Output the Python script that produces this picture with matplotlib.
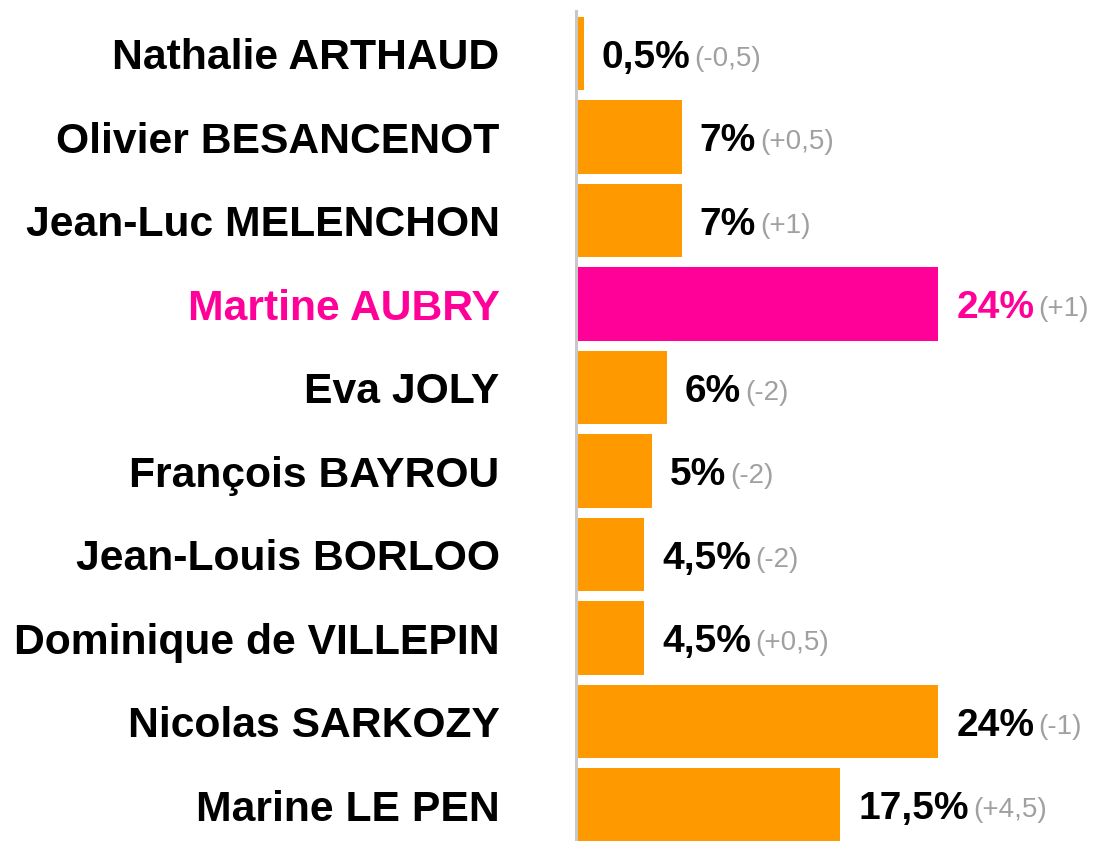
import numpy as np
import matplotlib.pyplot as plt

plt.rcParams['font.family'] = ['Liberation Sans', 'DejaVu Sans']

# Data
candidates = ['Nathalie ARTHAUD', 'Olivier BESANCENOT', 'Jean-Luc MELENCHON',
              'Martine AUBRY', 'Eva JOLY', 'François BAYROU', 'Jean-Louis BORLOO',
              'Dominique de VILLEPIN', 'Nicolas SARKOZY', 'Marine LE PEN']
scores = [0.5, 7, 7, 24, 6, 5, 4.5, 4.5, 24, 17.5]
score_labels = ['0,5%', '7%', '7%', '24%', '6%', '5%', '4,5%', '4,5%', '24%', '17,5%']
changes = ['(-0,5)', '(+0,5)', '(+1)', '(+1)', '(-2)', '(-2)', '(-2)', '(+0,5)', '(-1)', '(+4,5)']
highlight = 'Martine AUBRY'

ORANGE = '#FF9900'
PINK = '#FF0099'
GRAY = '#A0A0A0'

fig = plt.figure(figsize=(11.04, 8.41), dpi=100)
ax = fig.add_axes([576 / 1104, 0, 1 - 576 / 1104, 1 - 11 / 841])

y = np.arange(len(candidates))
colors = [PINK if c == highlight else ORANGE for c in candidates]
ax.barh(y, scores, height=0.88, color=colors, zorder=2)

ax.set_xlim(0, (1104 - 576) / 15.1)
ax.set_ylim(len(candidates) - 1 + 0.43, -0.51)

ax.set_yticks(y)
ax.set_yticklabels(candidates, fontsize=30.7, fontweight='bold')
for lbl, c in zip(ax.get_yticklabels(), candidates):
    lbl.set_color(PINK if c == highlight else 'black')
ax.tick_params(axis='y', length=0, pad=55)
ax.set_xticks([])

for s in ['top', 'right', 'bottom']:
    ax.spines[s].set_visible(False)
ax.spines['left'].set_color('#C8C8C8')
ax.spines['left'].set_linewidth(2.2)

for yi, val, lab, chg, c in zip(y, scores, score_labels, changes, candidates):
    col = PINK if c == highlight else 'black'
    t = ax.annotate(lab, xy=(val, yi), xytext=(13, 0), textcoords='offset points',
                    ha='left', va='center_baseline', fontsize=28, fontweight='bold', color=col)
    ax.annotate(chg, xy=(1, 0), xycoords=t, xytext=(3, 2.8), textcoords='offset points',
                ha='left', va='bottom', fontsize=20, color=GRAY)

fig.savefig('out.png', dpi=100)
